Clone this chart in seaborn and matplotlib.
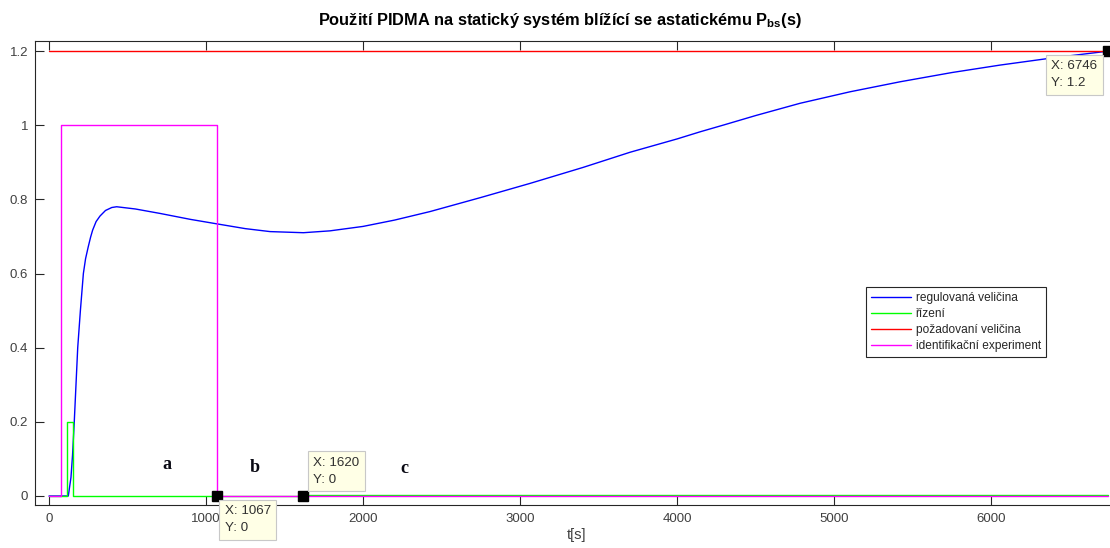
import matplotlib
matplotlib.use("Agg")
import matplotlib.pyplot as plt
import seaborn as sns

# --- data ---------------------------------------------------------------
# controlled variable (regulovaná veličina)
t_y = [0, 123, 140, 150, 161, 172, 183, 200, 219, 233, 250, 265, 278, 300,
       325, 360, 400, 431, 550, 707, 900, 1067, 1250, 1408, 1620, 1789,
       2000, 2200, 2426, 2750, 3063, 3400, 3700, 4000, 4145, 4300, 4500,
       4782, 5100, 5419, 5750, 6055, 6400, 6692, 6746]
y_vals = [0, 0, 0.05, 0.11, 0.2, 0.3, 0.4, 0.5, 0.6, 0.64, 0.672, 0.698,
          0.717, 0.740, 0.755, 0.770, 0.778, 0.780, 0.774, 0.762, 0.746,
          0.734, 0.721, 0.713, 0.710, 0.715, 0.727, 0.744, 0.767, 0.805,
          0.843, 0.886, 0.927, 0.963, 0.982, 1.001, 1.026, 1.059, 1.090,
          1.117, 1.142, 1.162, 1.182, 1.197, 1.2]

# control action (řízení), piecewise constant
t_u = [0, 113, 151, 1620, 6746]
u_vals = [0, 0.2, 0, 0.004, 0.004]

# set point (požadovaná veličina)
t_w = [0, 6746]
w_vals = [1.2, 1.2]

# identification experiment pulse, piecewise constant
t_id = [0, 78, 1067, 6746]
id_vals = [0, 1, 0, 0]

series_labels = ["regulovaná veličina", "řízení", "požadovaní veličina",
                 "identifikační experiment"]
series_colors = ["#0000FF", "#00FF00", "#FF0000", "#FF00FF"]

# data tips: (x, y)
tips_x = [1067, 1620, 6746]
tips_y = [0, 0, 1.2]

# section labels
sec_text = ["a", "b", "c"]
sec_x = [752, 1312, 2261]
sec_y = [0.084, 0.078, 0.075]

x_ticks = [0, 1000, 2000, 3000, 4000, 5000, 6000]
y_ticks = [0, 0.2, 0.4, 0.6, 0.8, 1.0, 1.2]
y_ticklabels = ["0", "0.2", "0.4", "0.6", "0.8", "1", "1.2"]

title = "Použití PIDMA na statický systém blížící se astatickému P$_{\\mathbf{bs}}$(s)"
xlabel = "t[s]"

# --- style --------------------------------------------------------------
sns.set_theme(style="white")
plt.rcParams["font.family"] = ["Liberation Sans", "DejaVu Sans"]
plt.rcParams["mathtext.fontset"] = "custom"
plt.rcParams["mathtext.rm"] = "Liberation Sans"
plt.rcParams["mathtext.bf"] = "Liberation Sans:bold"

W, H = 1110, 548
fig = plt.figure(figsize=(W / 100, H / 100), dpi=100)
ax = fig.add_axes([35 / W, 43 / H, (1119 - 35) / W, (505 - 41) / H])

lw = 1.0
sns.lineplot(x=t_y, y=y_vals, ax=ax, color=series_colors[0], lw=lw,
             label=series_labels[0], estimator=None, sort=False)
sns.lineplot(x=t_u, y=u_vals, ax=ax, color=series_colors[1], lw=lw,
             label=series_labels[1], drawstyle="steps-post",
             estimator=None, sort=False)
sns.lineplot(x=t_w, y=w_vals, ax=ax, color=series_colors[2], lw=lw,
             label=series_labels[2], estimator=None, sort=False)
sns.lineplot(x=t_id, y=id_vals, ax=ax, color=series_colors[3], lw=lw,
             label=series_labels[3], drawstyle="steps-post",
             estimator=None, sort=False)

ax.set_xlim(-89, 6813)
ax.set_ylim(-0.0243, 1.227)

axis_col = "#262626"
for side in ["left", "bottom", "top"]:
    ax.spines[side].set_visible(True)
    ax.spines[side].set_color(axis_col)
    ax.spines[side].set_linewidth(0.8)
ax.spines["right"].set_visible(False)

ax.set_xticks(x_ticks)
ax.set_xticklabels([str(v) for v in x_ticks])
ax.set_yticks(y_ticks)
ax.set_yticklabels(y_ticklabels)
ax.tick_params(axis="both", direction="in", length=6.5, width=0.8,
               color=axis_col, labelcolor="#404040", labelsize=9.5,
               bottom=True, top=True, left=True, right=False)
ax.tick_params(axis="x", pad=6)
ax.tick_params(axis="y", pad=5)
ax.set_xlabel(xlabel, fontsize=10.5, color="#404040", labelpad=2)
ax.set_ylabel("")

fig.text(560 / W, 1 - 25 / H, title, ha="center", va="baseline",
         fontsize=11.8, fontweight="bold", color="#000000")

# data tips
tip_offsets = [(8, -9, "left", "top"), (10, 10, "left", "bottom"),
               (-57, -9, "left", "top")]
for x, y, (dx, dy, ha, va) in zip(tips_x, tips_y, tip_offsets):
    ax.plot([x], [y], marker="s", ms=7, color="black", clip_on=False,
            zorder=6)
    lab = f"X: {x}\nY: {y:g}"
    ax.annotate(lab, xy=(x, y), xytext=(dx, dy), textcoords="offset pixels",
                ha=ha, va=va, fontsize=9.6, color="#303030", linespacing=1.6,
                annotation_clip=False, zorder=7,
                bbox=dict(boxstyle="square,pad=0.4", fc="#FFFFE6",
                          ec="#C8C8C8", lw=0.8))

# section labels
for s, x, y in zip(sec_text, sec_x, sec_y):
    ax.text(x, y, s, ha="center", va="center", fontsize=13,
            fontweight="bold", family="Liberation Serif", color="#0a0a14")

leg = ax.legend(loc="upper left", bbox_to_anchor=(866 / W, 1 - 287 / H),
                bbox_transform=fig.transFigure, borderaxespad=0,
                fontsize=8.6, frameon=True, fancybox=False, shadow=False,
                handlelength=3.4, handletextpad=0.4, labelspacing=0.35,
                borderpad=0.4)
leg.get_frame().set_edgecolor(axis_col)
leg.get_frame().set_linewidth(0.8)
leg.get_frame().set_alpha(1.0)
for line in leg.get_lines():
    line.set_linewidth(1.0)

fig.savefig("out.png", dpi=100)
